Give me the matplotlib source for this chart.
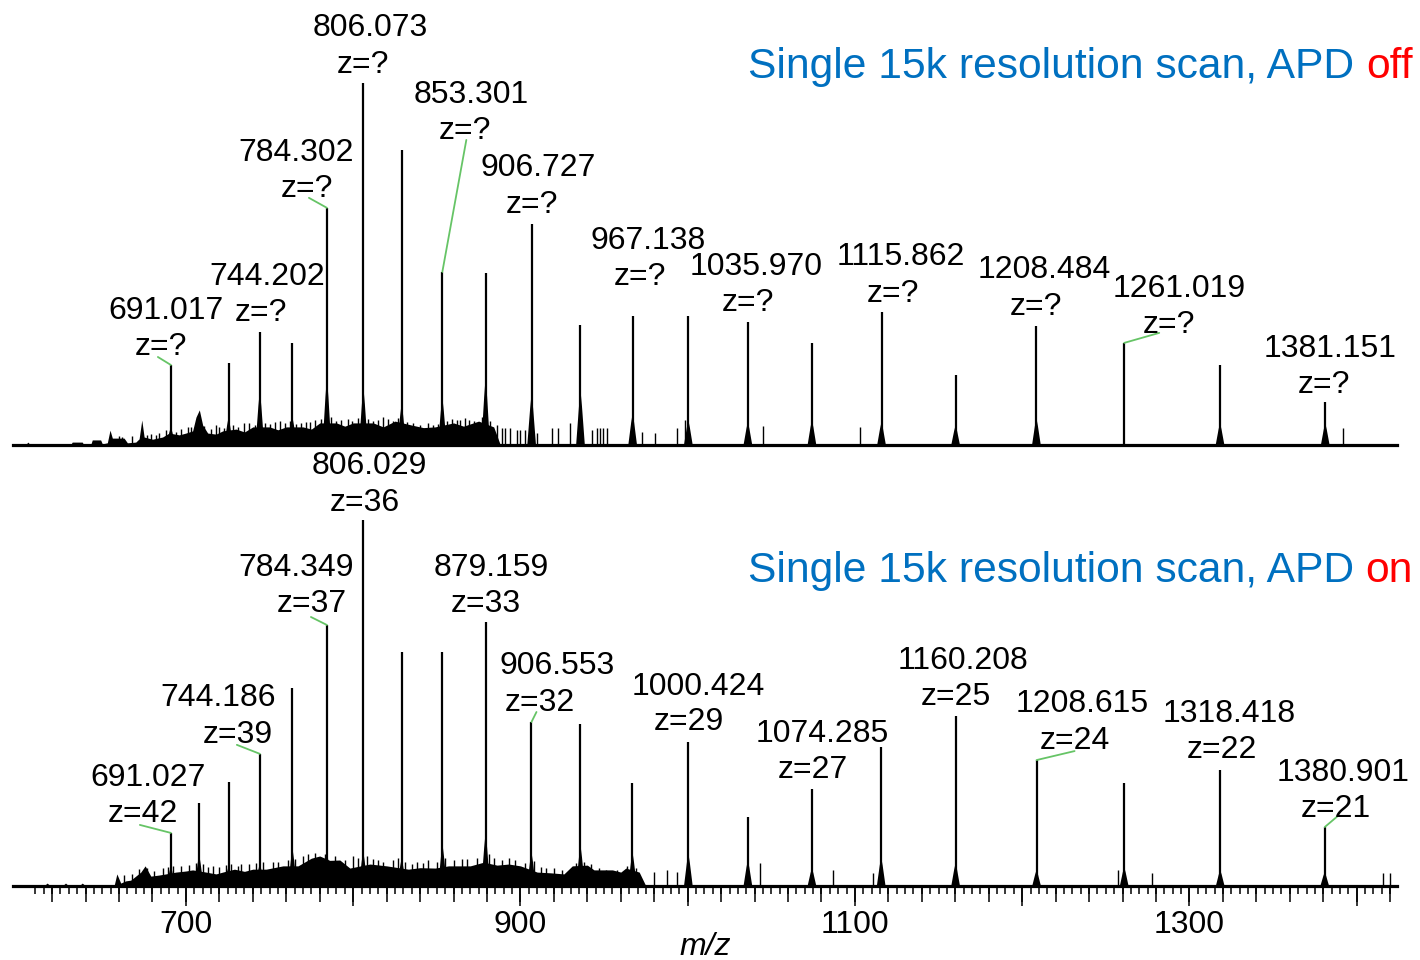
import numpy as np
import matplotlib
matplotlib.use('Agg')
import matplotlib.pyplot as plt
from matplotlib.ticker import FixedLocator, FuncFormatter

plt.rcParams['font.family'] = ['Liberation Sans', 'DejaVu Sans']

# ---------------- APD off (top spectrum), relative intensity ----------------
off_mz   = [691.0, 725.5, 744.2, 763.7, 784.3, 806.1, 829.0, 853.3, 879.2, 906.7, 935.9,
            967.1, 1000.4, 1036.0, 1074.3, 1115.9, 1160.2, 1208.5, 1261.0, 1318.3, 1381.2]
off_int  = [22.1, 22.6, 31.2, 28.2, 65.5, 100.0, 81.5, 47.8, 47.5, 61.0, 33.1,
            35.6, 35.6, 34.0, 28.2, 36.7, 19.3, 32.9, 28.2, 22.1, 11.9]
off_base = [5.0, 7.7, 15.2, 7.7, 18.8, 16.0, 11.6, 13.3, 18.8, 14.4, 15.2,
            8.8, 6.9, 6.4, 6.9, 6.4, 5.5, 7.5, 0.0, 6.1, 6.1]

off_noise_mz  = [597, 604, 605.5, 607, 631, 632, 638, 639, 643, 644, 649, 650, 653, 654.6, 656,
                 663, 665, 670, 672, 673.6, 675, 680, 686, 690, 696, 700, 704, 706, 708, 710,
                 713, 718, 722, 730, 735, 740, 750, 755, 760, 770, 775, 780, 790, 795, 800,
                 812, 818, 825, 835, 842, 849, 860, 866, 875, 884, 888]
off_noise_lvl = [0, 0, 0.8, 0, 0, 0.8, 0.8, 0, 0, 1.4, 1.4, 0.3, 0.6, 4.1, 1.9,
                 1.9, 0.6, 0.8, 1.7, 6.9, 2.2, 1.6, 2.2, 3.3, 2.8, 3.3, 3.9, 7.7, 9.7, 5.5,
                 3.3, 3.0, 3.9, 4.4, 3.6, 5.0, 5.0, 4.2, 5.0, 5.0, 4.4, 6.1, 6.1, 5.2, 6.1,
                 6.1, 5.0, 6.6, 5.5, 4.8, 5.0, 6.1, 5.2, 6.6, 5.0, 0]
off_spike_mz  = [660, 662, 668, 677, 679, 682, 684, 688, 694, 697, 701, 703, 711, 715, 718,
                 720, 723, 728, 731, 735, 738, 741, 747, 750, 753, 756, 759, 762, 766, 769,
                 772, 774, 777, 781, 787, 790, 793, 797, 799, 803, 809, 812, 815, 818, 821,
                 824, 827, 832, 836, 840, 845, 848, 851, 856, 859, 862, 864, 867, 869, 872,
                 877, 882, 886, 889, 891, 894, 898, 900, 903, 910, 918.6, 922.6, 929.6, 943,
                 945.6, 947.6, 949.6, 951.6, 972.8, 980.4, 993.4, 998.4, 1045, 1103, 1391.8]
off_spike_int = [2.5, 2.2, 2.5, 2.8, 3.0, 2.8, 3.3, 4.1, 3.6, 4.4, 5.0, 5.0, 5.2, 4.4, 5.5,
                 5.0, 4.7, 5.5, 5.0, 6.0, 6.0, 5.5, 6.1, 5.8, 6.3, 6.6, 6.1, 6.6, 5.8, 6.0,
                 6.3, 6.4, 6.9, 7.2, 7.7, 6.6, 6.9, 7.2, 6.6, 7.4, 7.2, 6.6, 6.9, 7.7, 7.2,
                 6.6, 7.5, 6.3, 6.1, 5.5, 6.0, 5.5, 5.8, 6.6, 7.2, 6.9, 7.0, 7.4, 6.9, 6.6,
                 7.7, 6.6, 5.5, 4.7, 4.7, 4.7, 4.1, 4.1, 4.1, 3.3, 4.7, 4.7, 6.1, 4.1,
                 4.7, 4.7, 4.7, 4.7, 3.6, 3.3, 4.7, 6.9, 5.2, 5.0, 4.7]

off_lab_mz = ['691.017', '744.202', '784.302', '806.073', '853.301', '906.727',
              '967.138', '1035.970', '1115.862', '1208.484', '1261.019', '1381.151']
off_lab_z  = ['z=?'] * 12

# ---------------- APD on (bottom spectrum) ----------------
on_mz   = [691.0, 707.9, 725.5, 744.2, 763.7, 784.3, 806.0, 829.0, 853.4, 879.2, 906.6,
           935.9, 967.0, 1000.4, 1036.0, 1074.3, 1115.7, 1160.2, 1208.6, 1261.0, 1318.4, 1380.9]
on_int  = [14.5, 22.7, 28.4, 36.1, 54.1, 71.3, 100.0, 63.9, 63.9, 72.1, 44.8,
           44.3, 28.1, 39.3, 18.9, 26.5, 38.0, 46.4, 34.4, 28.1, 31.7, 16.1]
on_base = [5.5, 8.7, 5.5, 6.3, 10.4, 9.6, 9.6, 7.7, 11.5, 14.8, 9.3,
           11.2, 9.3, 9.0, 7.1, 4.9, 7.9, 6.3, 4.4, 5.2, 4.4, 3.8]

on_noise_mz  = [597, 615, 617, 619, 626, 628, 630, 636, 638, 640, 657, 658.7, 661, 664, 667,
                670, 673, 675.6, 679, 684, 688, 694, 700, 704, 712, 718, 722, 729, 735, 740,
                748, 758, 767, 775, 780, 786, 792, 798, 810, 820, 833, 840, 849, 857, 870,
                878, 886, 893, 900, 910, 918, 926, 931, 940, 944, 955, 960, 963, 971, 975]
on_noise_lvl = [0, 0, 0.8, 0, 0, 0.8, 0, 0, 0.8, 0, 0, 3.3, 0.8, 1.4, 1.6,
                2.7, 3.8, 5.5, 2.7, 3.0, 3.3, 3.8, 4.1, 4.4, 3.8, 3.3, 3.8, 4.6, 4.0, 4.6,
                4.6, 5.5, 5.5, 7.6, 8.2, 7.0, 7.1, 4.9, 6.0, 5.5, 4.6, 5.0, 4.9, 5.5, 5.5,
                6.5, 5.7, 6.0, 5.5, 3.8, 3.6, 3.3, 5.5, 5.7, 4.4, 4.4, 3.8, 4.9, 3.8, 0]
on_spike_mz  = [663, 668, 672, 677, 681, 686, 689, 692, 697, 702, 706, 710, 713, 716, 720,
                724, 727, 731, 733, 738, 742, 746, 752, 755, 761, 765, 770, 773, 777, 783,
                789, 795, 800, 803, 808, 812, 815, 818, 824, 827, 831, 835, 838, 842, 845,
                850, 855, 860, 865, 868, 874, 881, 884, 889, 893, 897, 903, 908, 912, 915,
                920, 925, 933, 938, 942, 947, 951, 958, 964, 969, 979.7, 987.6, 993.6, 1043,
                1087, 1111, 1257, 1277.6, 1416, 1420]
on_spike_int = [3.0, 3.3, 4.6, 4.9, 4.1, 4.9, 5.2, 5.5, 5.5, 5.7, 6.3, 6.0, 5.2, 5.5, 5.2,
                5.7, 6.0, 5.5, 6.0, 6.0, 6.3, 6.6, 6.6, 6.6, 7.1, 7.4, 8.2, 8.7, 9.0, 8.7,
                8.2, 7.1, 8.2, 7.7, 8.2, 7.4, 7.1, 6.6, 7.1, 7.7, 6.6, 6.0, 6.6, 6.3, 7.1,
                6.6, 7.7, 7.1, 7.4, 7.4, 7.7, 8.7, 7.7, 7.1, 7.6, 7.1, 6.3, 6.9, 5.2, 4.9,
                4.9, 4.4, 6.3, 6.6, 6.0, 4.9, 4.4, 4.4, 5.5, 4.9, 3.8, 4.4, 3.8, 6.3,
                4.4, 3.6, 4.4, 3.6, 3.6, 3.6]

on_lab_mz = ['691.027', '744.186', '784.349', '806.029', '879.159', '906.553',
             '1000.424', '1074.285', '1160.208', '1208.615', '1318.418', '1380.901']
on_lab_z  = ['z=42', 'z=39', 'z=37', 'z=36', 'z=33', 'z=32',
             'z=29', 'z=27', 'z=25', 'z=24', 'z=22', 'z=21']

# label placement: pixel offsets from peak tip (mass line, charge line)
off_offsets = [(-5, 54, -10, 18), (7, 55, 1, 19), (-31, 55, -20, 19), (7, 55, 0, 18),
               (29, 177, 23, 141), (7, 56, 0, 19), (15, 75, 7, 39), (8, 55, 0, 19),
               (19, 55, 11, 18), (8, 56, 0, 19), (55, 54, 45, 18), (5, 53, -1, 17)]
on_offsets = [(-23, 55, -28, 19), (-42, 56, -22, 19), (-31, 57, -15, 21), (6, 54, 2, 17),
              (6, 54, 0, 18), (26, 56, 8, 19), (10, 55, 1, 20), (10, 55, 1, 19),
              (7, 55, 0, 19), (46, 56, 38, 19), (9, 56, 2, 20), (18, 54, 11, 18)]
# green leader lines: label -> far end offset (pixels) from peak tip
off_leaders = {'691.017': (-13, 8), '784.302': (-18, 10), '853.301': (24, 132), '1261.019': (35, 10)}
on_leaders = {'691.027': (-31, 8), '744.186': (-23, 9), '784.349': (-16, 8),
              '906.553': (5, 10), '1208.615': (38, 9), '1380.901': (13, 11)}

W, H = 1420, 960
BLUE = '#0070c0'
GREEN = '#66c466'
FS = 23


def draw_spectrum(ax, mz, inten, base, noise_mz, noise_lvl, spike_mz, spike_int):
    ax.fill_between(noise_mz, 0, noise_lvl, color='black', lw=0)
    ax.vlines(spike_mz, 0, spike_int, color='black', lw=1.0)
    # isotope envelope at the foot of each peak
    for m, b in zip(mz, base):
        if b > 0:
            ax.fill([m - 2.6, m - 0.9, m, m + 0.9, m + 2.6],
                    [0, 0.7 * b, b, 0.7 * b, 0], color='black', lw=0)
    ax.vlines(mz, 0, inten, color='black', lw=1.6)
    for s in ['top', 'left', 'right']:
        ax.spines[s].set_visible(False)
    ax.spines['bottom'].set_linewidth(2.3)
    ax.set_yticks([])
    ax.set_xlim(596.6, 1424.1)


def label_peaks(ax, mz, inten, lab_mz, lab_z, offsets, leaders):
    mz_arr = np.array(mz)
    for t_mz, t_z, (dx1, dy1, dx2, dy2) in zip(lab_mz, lab_z, offsets):
        i = int(np.argmin(np.abs(mz_arr - float(t_mz))))
        tip = (mz[i], inten[i])
        if t_mz in leaders:
            ax.annotate('', xy=tip, xytext=leaders[t_mz], textcoords='offset pixels',
                        arrowprops=dict(arrowstyle='-', color=GREEN, lw=1.3,
                                        shrinkA=0, shrinkB=0), annotation_clip=False)
        ax.annotate(t_mz, xy=tip, xytext=(dx1, dy1), textcoords='offset pixels',
                    ha='center', va='center', fontsize=FS, annotation_clip=False)
        ax.annotate(t_z, xy=tip, xytext=(dx2, dy2), textcoords='offset pixels',
                    ha='center', va='center', fontsize=FS, annotation_clip=False)


fig = plt.figure(figsize=(14.2, 9.6), dpi=100)
ax_off = fig.add_axes([13 / W, (H - 445) / H, 1384 / W, 445 / H])
ax_on = fig.add_axes([13 / W, (H - 886) / H, 1384 / W, 436 / H])

draw_spectrum(ax_off, off_mz, off_int, off_base, off_noise_mz, off_noise_lvl,
              off_spike_mz, off_spike_int)
draw_spectrum(ax_on, on_mz, on_int, on_base, on_noise_mz, on_noise_lvl,
              on_spike_mz, on_spike_int)
ax_off.set_ylim(0, 122.9)
ax_on.set_ylim(0, 119.1)

label_peaks(ax_off, off_mz, off_int, off_lab_mz, off_lab_z, off_offsets, off_leaders)
label_peaks(ax_on, on_mz, on_int, on_lab_mz, on_lab_z, on_offsets, on_leaders)

# top axis: plain line
ax_off.set_xticks([])

# bottom axis: three tick levels
ax_on.xaxis.set_major_locator(FixedLocator(np.arange(700, 1401, 100)))
ax_on.xaxis.set_minor_locator(FixedLocator(np.arange(610, 1421, 5)))
ax_on.xaxis.set_major_formatter(
    FuncFormatter(lambda v, p: f'{v:.0f}' if int(round(v)) in (700, 900, 1100, 1300) else ''))
ax_on.tick_params(axis='x', which='major', length=14.4, width=1.1, labelsize=FS, pad=3)
ax_on.tick_params(axis='x', which='minor', length=5.8, width=1.1)
sec = ax_on.secondary_xaxis('bottom')
sec.set_xticks(np.arange(620, 1421, 20))
sec.tick_params(length=11.5, width=1.1, labelbottom=False)
sec.spines['bottom'].set_visible(False)
ax_on.set_xlabel('m/z', fontsize=FS, style='italic', labelpad=-6)

for ax, y_px, word in [(ax_off, 78, 'off'), (ax_on, 582, 'on')]:
    red = ax.text(1413 / W, 1 - y_px / H, word, color='red', fontsize=30.7,
                  ha='right', va='baseline', transform=fig.transFigure)
    ax.annotate('Single 15k resolution scan, APD', xy=(0, 0), xycoords=red,
                xytext=(-12, 0), textcoords='offset pixels', color=BLUE,
                fontsize=30.7, ha='right', va='bottom', annotation_clip=False)

fig.savefig('out.png', dpi=100)
